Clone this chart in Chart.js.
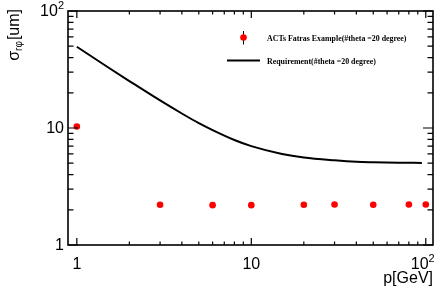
<!DOCTYPE html>
<html>
<head>
<meta charset="utf-8">
<script src="https://cdn.jsdelivr.net/npm/chart.js@4"></script>
<style>
  body { margin: 0; background: #fff; }
  #wrap { width: 444px; height: 289px; position: relative; }
</style>
</head>
<body>
<div id="wrap"><canvas id="resChart"></canvas></div>
<script>
// measured points (ACTS Fatras)
const momenta = [1, 3, 6, 10, 20, 30, 50, 80, 100];
const sigmaFatras = [10.3, 2.21, 2.19, 2.19, 2.21, 2.22, 2.21, 2.22, 2.22];

// requirement curve
const reqMomenta = [1, 1.5, 2, 3, 4, 5, 6, 8, 10, 15, 20, 30, 40, 50, 70, 95];
const reqSigma = [49.5, 33.2, 25.2, 17.2, 13.3, 11.0, 9.6, 7.9, 7.0, 6.0, 5.6, 5.3, 5.15, 5.1, 5.05, 5.03];

const xTicks = [1, 2, 3, 4, 5, 6, 7, 8, 9, 10, 20, 30, 40, 50, 60, 70, 80, 90, 100];
const yTicks = [1, 2, 3, 4, 5, 6, 7, 8, 9, 10, 20, 30, 40, 50, 60, 70, 80, 90, 100];
const decades = [1, 10, 100];

const legendFatras = "ACTs Fatras Example(#theta =20 degree)";
const legendReq = "Requirement(#theta =20 degree)";

const FONT = '"Liberation Sans", Arial, sans-serif';

function drawDecadeLabel(ctx, v, px, py, align) {
  // 1, 10, 10^2 as ROOT prints them
  ctx.font = "16px " + FONT;
  ctx.textBaseline = "middle";
  if (v < 100) {
    ctx.textAlign = align;
    ctx.fillText(String(v), px, py);
    return;
  }
  const wBase = ctx.measureText("10").width;
  ctx.font = "11px " + FONT;
  const wSup = ctx.measureText("2").width;
  let left = align === "right" ? px - wBase - wSup : px - (wBase + wSup) / 2 - 3;
  ctx.textAlign = "left";
  ctx.font = "16px " + FONT;
  ctx.fillText("10", left, py);
  ctx.font = "11px " + FONT;
  ctx.fillText("2", left + wBase, py - 6);
}

const rootFrame = {
  id: "rootFrame",
  afterDraw(chart) {
    const { ctx, chartArea: a, scales } = chart;
    const x = scales.x, y = scales.y;
    ctx.save();
    ctx.strokeStyle = "#000";
    ctx.fillStyle = "#000";

    // frame
    ctx.lineWidth = 1.6;
    ctx.strokeRect(a.left, a.top, a.right - a.left, a.bottom - a.top);

    // ticks, pointing inwards on all four sides
    ctx.lineWidth = 1.2;
    ctx.beginPath();
    xTicks.forEach(v => {
      const px = x.getPixelForValue(v);
      const len = decades.includes(v) ? 7 : 3.5;
      ctx.moveTo(px, a.bottom); ctx.lineTo(px, a.bottom - len);
      ctx.moveTo(px, a.top); ctx.lineTo(px, a.top + len);
    });
    yTicks.forEach(v => {
      const py = y.getPixelForValue(v);
      const len = decades.includes(v) ? 10 : 5.5;
      ctx.moveTo(a.left, py); ctx.lineTo(a.left + len, py);
      ctx.moveTo(a.right, py); ctx.lineTo(a.right - len, py);
    });
    ctx.stroke();

    // tick labels
    decades.forEach(v => {
      drawDecadeLabel(ctx, v, x.getPixelForValue(v), a.bottom + 20, "center");
      drawDecadeLabel(ctx, v, a.left - 4, y.getPixelForValue(v) + 1, "right");
    });

    // axis titles
    ctx.font = "16px " + FONT;
    ctx.textAlign = "right";
    ctx.textBaseline = "alphabetic";
    ctx.fillText("p[GeV]", a.right, a.bottom + 38);

    ctx.save();
    ctx.translate(19, 9);
    ctx.rotate(-Math.PI / 2);
    ctx.textAlign = "left";
    ctx.font = "16px " + FONT;
    const wUm = ctx.measureText("[um]").width;
    ctx.font = "10px " + FONT;
    const wSub = ctx.measureText("r\u03c6").width;
    ctx.font = "16px " + FONT;
    const wSig = ctx.measureText("\u03c3").width;
    let cx = -(wUm + wSub + wSig + 1);
    ctx.fillText("\u03c3", cx, 0);
    cx += wSig;
    ctx.font = "10px " + FONT;
    ctx.fillText("r\u03c6", cx, 3);
    cx += wSub + 1;
    ctx.font = "16px " + FONT;
    ctx.fillText("[um]", cx, 0);
    ctx.restore();

    // legend
    ctx.lineWidth = 1;
    ctx.beginPath();
    ctx.moveTo(243.5, 31); ctx.lineTo(243.5, 44.5);
    ctx.stroke();
    ctx.fillStyle = "#ff0000";
    ctx.beginPath();
    ctx.arc(243.5, 37.5, 3.3, 0, Math.PI * 2);
    ctx.fill();

    ctx.lineWidth = 2;
    ctx.beginPath();
    ctx.moveTo(227, 60.5); ctx.lineTo(260, 60.5);
    ctx.stroke();

    ctx.fillStyle = "#000";
    ctx.font = 'bold 7.9px "Liberation Serif", "Times New Roman", serif';
    ctx.textAlign = "left";
    ctx.textBaseline = "middle";
    ctx.fillText(legendFatras, 267, 38.5);
    ctx.fillText(legendReq, 267, 62);
    ctx.restore();
  }
};

new Chart(document.getElementById("resChart"), {
  type: "scatter",
  data: {
    datasets: [
      {
        label: legendReq,
        data: reqMomenta.map((p, i) => ({ x: p, y: reqSigma[i] })),
        showLine: true,
        borderColor: "#000",
        borderWidth: 2,
        pointRadius: 0,
        cubicInterpolationMode: "monotone",
        order: 2
      },
      {
        label: legendFatras,
        data: momenta.map((p, i) => ({ x: p, y: sigmaFatras[i] })),
        showLine: false,
        backgroundColor: "#ff0000",
        borderColor: "#ff0000",
        borderWidth: 0,
        pointRadius: 3.3,
        order: 1
      }
    ]
  },
  options: {
    responsive: true,
    maintainAspectRatio: false,
    animation: false,
    layout: { padding: { left: 68, right: 11, top: 11, bottom: 44 } },
    plugins: { legend: { display: false }, tooltip: { enabled: false } },
    scales: {
      x: { type: "logarithmic", min: 0.89, max: 110, display: false },
      y: { type: "logarithmic", min: 1, max: 100, display: false }
    }
  },
  plugins: [rootFrame]
});
</script>
</body>
</html>
